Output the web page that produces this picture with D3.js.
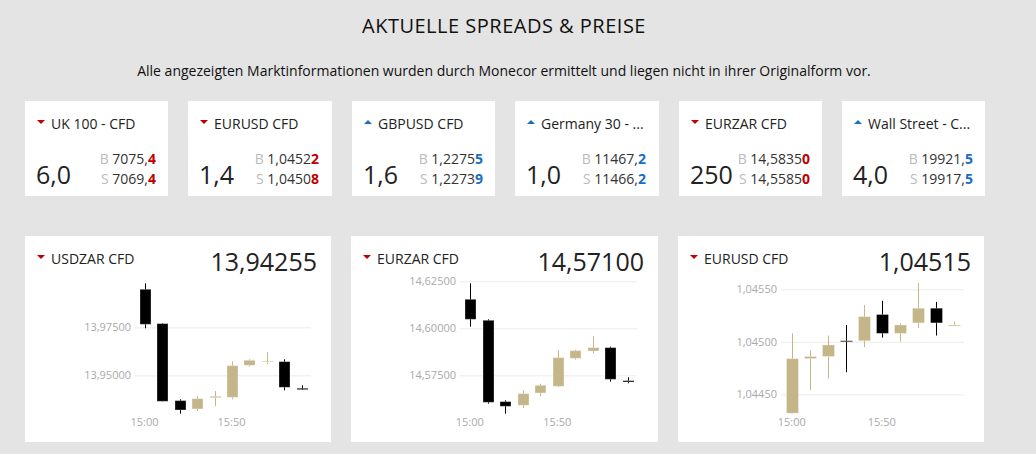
<!DOCTYPE html>
<html>
<head>
<meta charset="utf-8">
<script src="https://cdn.jsdelivr.net/npm/d3@7"></script>
<style>
html,body{margin:0;padding:0;background:#e4e4e4;overflow:hidden;}
text{font-family:"Open Sans",sans-serif;}
.axis path{display:none;}
.yAxis line{stroke:#ebebeb;}
.xAxis line{display:none;}
.axis text{font-family:"Open Sans",sans-serif;font-size:11px;fill:#a9a9a9;}
</style>
</head>
<body>
<svg id="chart" width="1036" height="454"></svg>
<script>
// top row
var cardNames=["UK 100 - CFD","EURUSD CFD","GBPUSD CFD","Germany 30 - ...","EURZAR CFD","Wall Street - C..."];
var cardDirs=["down","down","up","up","down","up"];
var cardSpreads=["6,0","1,4","1,6","1,0","250","4,0"];
var cardBuy=["7075,4","1,04522","1,22755","11467,2","14,58350","19921,5"];
var cardSell=["7069,4","1,04508","1,22739","11466,2","14,55850","19917,5"];

// candles: open, high, low, close
var times=["15:00","15:10","15:20","15:30","15:40","15:50","16:00","16:10","16:20","16:30"];
var usdzar=[
  [13.99479,13.99792,13.97448,13.97656],
  [13.97691,13.97708,13.93646,13.93646],
  [13.93681,13.9375,13.93003,13.93194],
  [13.93247,13.93906,13.93142,13.93785],
  [13.93837,13.94184,13.93385,13.93906],
  [13.93854,13.95729,13.9375,13.95503],
  [13.95521,13.95833,13.95451,13.95781],
  [13.95694,13.96198,13.95573,13.95729],
  [13.95712,13.95833,13.94219,13.94375],
  [13.94323,13.94479,13.94236,13.94253]
];
var eurzar=[
  [14.61543,14.62394,14.60089,14.60479],
  [14.60426,14.60479,14.55993,14.56064],
  [14.56099,14.5617,14.55461,14.55851],
  [14.55904,14.56702,14.5578,14.56525],
  [14.5656,14.57057,14.56383,14.56968],
  [14.56915,14.5883,14.56879,14.5844],
  [14.58404,14.58865,14.58333,14.58812],
  [14.58794,14.59574,14.5867,14.58972],
  [14.58972,14.59025,14.57163,14.57287],
  [14.57216,14.57394,14.57074,14.57145]
];
var eurusd=[
  [1.04432,1.04508,1.04432,1.04484],
  [1.04484,1.04492,1.04454,1.04486],
  [1.04486,1.04506,1.04465,1.04497],
  [1.04501,1.04516,1.04471,1.045],
  [1.04501,1.04535,1.04495,1.04524],
  [1.04526,1.04539,1.04504,1.04508],
  [1.04508,1.04518,1.045,1.04516],
  [1.04518,1.04556,1.04513,1.04532],
  [1.04532,1.04538,1.04506,1.04518],
  [1.04515,1.04519,1.04515,1.04516]
];
var usdzarTicks=[13.95,13.975];
var eurzarTicks=[14.575,14.6,14.625];
var eurusdTicks=[1.0445,1.045,1.0455];
var xTicks=["15:00","15:50"];

var red="#c00000",blue="#1b6ec2",gold="#c5b68a",ink="#222";
var parseTime=d3.timeParse("%H:%M");
var svg=d3.select("#chart");
var comma=function(n){return function(v){return v.toFixed(n).replace(".",",");};};

svg.append("text")
   .attr("x",504).attr("y",33)
   .attr("text-anchor","middle")
   .attr("font-size",20)
   .attr("letter-spacing",0.5)
   .attr("fill","#111")
   .text("AKTUELLE SPREADS & PREISE");
svg.append("text")
   .attr("x",504).attr("y",76)
   .attr("text-anchor","middle")
   .attr("font-size",14)
   .attr("fill","#111")
   .text("Alle angezeigten Marktinformationen wurden durch Monecor ermittelt und liegen nicht in ihrer Originalform vor.");

function arrow(g,dir,x,y){
  g.append("path")
   .attr("d",dir=="down"?"M-4,-2L4,-2L0,2Z":"M-4,2L4,2L0,-2Z")
   .attr("transform","translate("+x+","+y+")")
   .attr("fill",dir=="down"?red:blue);
}

// price text with last digit picked out
function priceLine(g,letter,price,y,color,right){
  var t=g.append("text").attr("x",right).attr("y",y)
         .attr("text-anchor","end").attr("font-size",14);
  t.append("tspan").attr("fill","#bbb").text(letter+" ");
  t.append("tspan").attr("fill","#333").text(price.slice(0,-1));
  t.append("tspan").attr("fill",color).attr("font-weight",700).text(price.slice(-1));
}

var cardX=[25,188,352,515,679,842];
var cardW=[143,144,143,144,143,143];
cardNames.forEach(function(name,i){
  var g=svg.append("g").attr("transform","translate("+cardX[i]+",101)");
  var color=cardDirs[i]=="down"?red:blue;
  g.append("rect").attr("width",cardW[i]).attr("height",95).attr("fill","#fff");
  arrow(g,cardDirs[i],16,21);
  g.append("text").attr("x",26).attr("y",28).attr("font-size",14).attr("fill",ink).text(name);
  g.append("text").attr("x",11).attr("y",83).attr("font-size",25).attr("fill",ink).text(cardSpreads[i]);
  priceLine(g,"B",cardBuy[i],63,color,131);
  priceLine(g,"S",cardSell[i],83,color,131);
});

function drawChart(cfg){
  var g=svg.append("g");
  g.append("rect")
   .attr("x",cfg.left).attr("y",236)
   .attr("width",cfg.width).attr("height",206)
   .attr("fill","#fff");
  arrow(g,"down",cfg.left+16,257);
  g.append("text").attr("x",cfg.left+26).attr("y",264).attr("font-size",14).attr("fill",ink).text(cfg.name);
  g.append("text").attr("x",cfg.right).attr("y",271)
   .attr("text-anchor","end").attr("font-size",25).attr("fill",ink).text(cfg.last);

  var xScale=d3.scaleTime()
               .domain([parseTime(times[0]),parseTime(times[5])])
               .range(cfg.xRange);
  var yScale=d3.scaleLinear()
               .domain(cfg.yDomain)
               .range(cfg.yRange);
  var yAxis=d3.axisLeft(yScale)
              .tickValues(cfg.ticks)
              .tickFormat(comma(5))
              .tickSize(-(cfg.gridEnd-cfg.gridStart))
              .tickPadding(4);
  var xAxis=d3.axisBottom(xScale)
              .tickValues(xTicks.map(parseTime))
              .tickFormat(d3.timeFormat("%H:%M"))
              .tickSize(0);
  g.append("g").classed("axis yAxis",true)
   .attr("transform","translate("+cfg.gridStart+",0)")
   .call(yAxis);
  g.append("g").classed("axis xAxis",true)
   .attr("transform","translate(-1,415)")
   .call(xAxis);

  var bar=g.selectAll(".candle")
           .data(cfg.data)
           .enter()
           .append("g")
           .classed("candle",true);
  var px=function(i){return Math.round(xScale(parseTime(times[i])))+0.5;};
  var col=function(d){return d[3]>=d[0]?gold:"#000";};
  bar.append("line")
     .attr("x1",function(d,i){return px(i);})
     .attr("x2",function(d,i){return px(i);})
     .attr("y1",function(d){return yScale(d[1]);})
     .attr("y2",function(d){return yScale(d[2]);})
     .attr("stroke",col);
  bar.append("rect")
     .attr("x",function(d,i){return px(i)-cfg.bodyW/2;})
     .attr("y",function(d){return yScale(Math.max(d[0],d[3]));})
     .attr("width",cfg.bodyW)
     .attr("height",function(d){return Math.abs(yScale(d[0])-yScale(d[3]));})
     .attr("fill",col)
     .attr("stroke","#fff")
     .attr("stroke-opacity",0.3);
}

drawChart({name:"USDZAR CFD",last:"13,94255",left:25,width:306,right:317,data:usdzar,ticks:usdzarTicks,
  yDomain:[13.95,13.975],yRange:[375.3,327.3],xRange:[145,232],gridStart:135,gridEnd:311,bodyW:11});
drawChart({name:"EURZAR CFD",last:"14,57100",left:351,width:307,right:644,data:eurzar,ticks:eurzarTicks,
  yDomain:[14.575,14.625],yRange:[375.3,281.3],xRange:[470.3,557.7],gridStart:460,gridEnd:637,bodyW:11});
drawChart({name:"EURUSD CFD",last:"1,04515",left:678,width:306,right:971,data:eurusd,ticks:eurusdTicks,
  yDomain:[1.0445,1.0455],yRange:[394.3,289.3],xRange:[792.3,882.3],gridStart:781,gridEnd:964,bodyW:12});
</script>
</body>
</html>
